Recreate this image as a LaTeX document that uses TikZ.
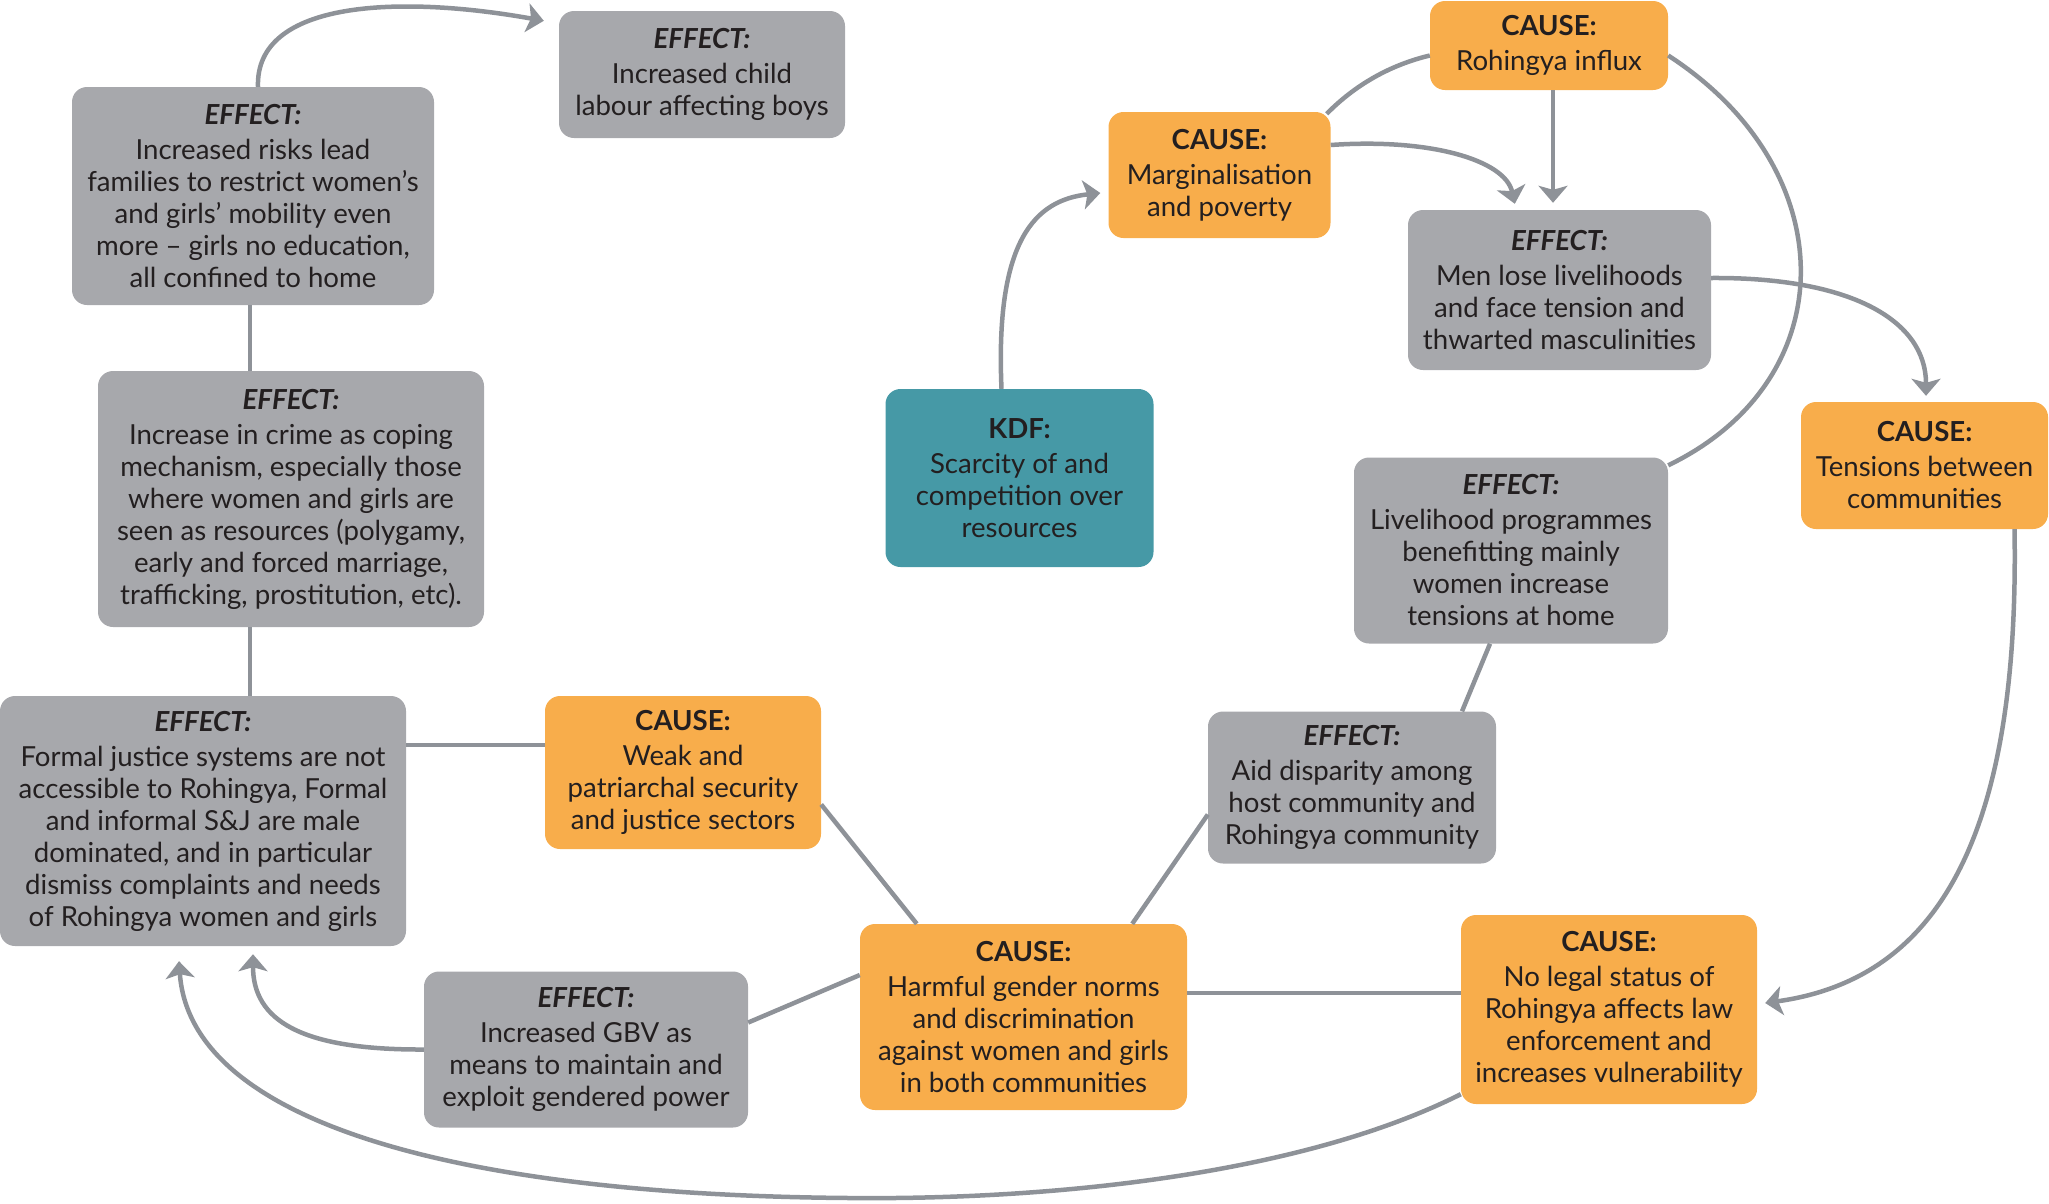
\documentclass[tikz,border=0pt]{standalone}
\usepackage{fontspec}
\setmainfont{Lato}
\usetikzlibrary{arrows.meta}
\definecolor{boxgray}{HTML}{A7A8AC}
\definecolor{boxorange}{HTML}{F8AD4B}
\definecolor{boxteal}{HTML}{4699A6}
\definecolor{linkgray}{HTML}{8E9298}
\definecolor{ink}{HTML}{231F20}
\newcommand\effhead{\textbf{\textit{EFFECT:}}\\[3pt]}
\newcommand\causehead{\textbf{CAUSE:}\\[3pt]}
\begin{document}
\begin{tikzpicture}[x=1pt,y=-1pt,
  box/.style={rounded corners=15pt, align=center, inner sep=0pt, text=ink,
    font=\fontsize{27.6}{32}\selectfont},
  effect/.style={box, fill=boxgray},
  cause/.style={box, fill=boxorange},
  driver/.style={box, fill=boxteal},
  link/.style={draw=linkgray, line width=4.5pt},
  arrowlink/.style={link, -{Stealth[length=17pt,width=29pt,inset=4pt]}},
]
\useasboundingbox (0,0) rectangle (2049,1203);

% ---- boxes ----
\node[effect, minimum width=362pt, minimum height=218pt] (A) at (253,196)
  {\effhead Increased risks lead\\families to restrict women’s\\and girls’ mobility even\\more – girls no education,\\all confined to home};
\node[effect, minimum width=286pt, minimum height=127pt] (B) at (702,74.5)
  {\effhead Increased child\\labour affecting boys};
\node[effect, minimum width=386pt, minimum height=256pt] (C) at (291,499)
  {\effhead Increase in crime as coping\\mechanism, especially those\\where women and girls are\\seen as resources (polygamy,\\early and forced marriage,\\trafficking, prostitution, etc).};
\node[effect, minimum width=406pt, minimum height=250pt] (D) at (203,821)
  {\effhead Formal justice systems are not\\accessible to Rohingya, Formal\\and informal S\&J are male\\dominated, and in particular\\dismiss complaints and needs\\of Rohingya women and girls};
\node[cause, minimum width=276pt, minimum height=153pt] (E) at (683,772.5)
  {\causehead Weak and\\patriarchal security\\and justice sectors};
\node[effect, minimum width=324pt, minimum height=156pt] (F) at (586,1049.5)
  {\effhead Increased GBV as\\means to maintain and\\exploit gendered power};
\node[cause, minimum width=327pt, minimum height=186pt] (G) at (1023.5,1017)
  {\causehead Harmful gender norms\\and discrimination\\against women and girls\\in both communities};
\node[cause, minimum width=296pt, minimum height=189pt] (H) at (1609,1009.5)
  {\causehead No legal status of\\Rohingya affects law\\enforcement and\\increases vulnerability};
\node[effect, minimum width=288pt, minimum height=152pt] (I) at (1352,787.5)
  {\effhead Aid disparity among\\host community and\\Rohingya community};
\node[effect, minimum width=314pt, minimum height=186pt] (J) at (1511,550.5)
  {\effhead Livelihood programmes\\benefitting mainly\\women increase\\tensions at home};
\node[cause, minimum width=247pt, minimum height=127pt] (K) at (1924.5,465.5)
  {\causehead Tensions between\\communities};
\node[effect, minimum width=303pt, minimum height=160pt] (L) at (1559.5,290)
  {\effhead Men lose livelihoods\\and face tension and\\thwarted masculinities};
\node[cause, minimum width=238pt, minimum height=89pt] (M) at (1549,45.5)
  {\causehead Rohingya influx};
\node[cause, minimum width=222pt, minimum height=126pt] (N) at (1219.5,175)
  {\causehead Marginalisation\\and poverty};
\node[driver, minimum width=268pt, minimum height=178pt] (O) at (1019.5,478)
  {\textbf{KDF:}\\[3pt]Scarcity of and\\competition over\\resources};

% ---- guide coordinates for straight runs ----
\coordinate (spine) at (250,0);
\coordinate (dey) at (0,745);
\coordinate (ghy) at (0,993);

% ---- plain links ----
\draw[link] (A.south -| spine) -- (C.north -| spine);
\draw[link] (C.south -| spine) -- (D.north -| spine);
\draw[link] (D.east |- dey) -- (E.west |- dey);
\draw[link] ([yshift=-32pt]E.east) -- ([xshift=57pt]G.north west);
\draw[link] ([yshift=27pt]F.east) -- ([yshift=42pt]G.west);
\draw[link] (G.east |- ghy) -- (H.west |- ghy);
\draw[link] ([xshift=-55pt]G.north east) -- ([yshift=-27pt]I.west);
\draw[link] ([xshift=110pt]I.north) -- ([xshift=-21pt]J.south);
\draw[link] ([yshift=-8pt]J.north east) .. controls (1845,380) and (1845,170) .. ([yshift=-10pt]M.east);
\draw[link] ([xshift=-4pt,yshift=-2pt]N.north east) .. controls (1355,85) and (1390,65) .. ([yshift=-10pt]M.west);

% ---- arrows ----
\draw[arrowlink] ([xshift=5pt]A.north) .. controls (255,0) and (400,-5) .. ([xshift=-15pt,yshift=-10pt]B.north west);
\draw[arrowlink] (F.west) .. controls (300,1050) and (253,1020) .. ([xshift=50pt,yshift=-8pt]D.south);
\draw[arrowlink] ([yshift=10pt]H.south west) .. controls (1300,1175) and (1050,1200) .. (850,1198)
  .. controls (450,1195) and (190,1120) .. ([xshift=-24pt,yshift=-15pt]D.south);
\draw[arrowlink] ([xshift=4pt]M.south) -- ([xshift=-6.5pt,yshift=7pt]L.north);
\draw[arrowlink] ([yshift=30pt]N.east) .. controls (1430,138) and (1505,160) .. ([xshift=107pt,yshift=6pt]L.north west);
\draw[arrowlink] ([xshift=-18pt]O.north) .. controls (995,240) and (1035,200) .. ([xshift=-8pt,yshift=-18pt]N.west);
\draw[arrowlink] ([yshift=12pt]L.east) .. controls (1850,277) and (1926,320) .. ([xshift=1.5pt,yshift=6pt]K.north);
\draw[arrowlink] ([xshift=90pt]K.south) .. controls (2020,850) and (1930,980) .. ([xshift=8pt,yshift=6.5pt]H.east);
\end{tikzpicture}
\end{document}
